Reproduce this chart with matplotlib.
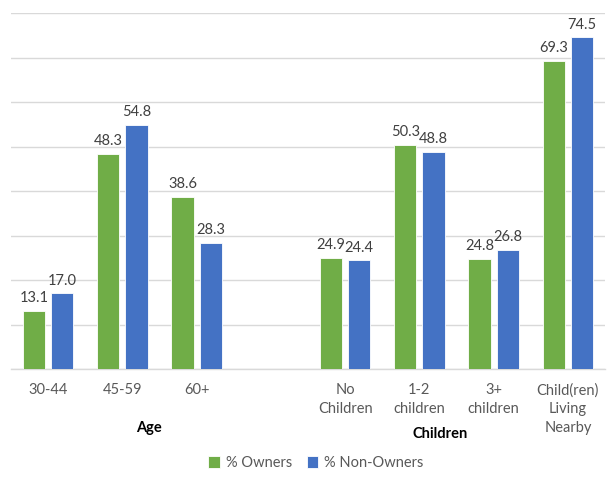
import matplotlib
matplotlib.use("Agg")
import matplotlib.pyplot as plt
import numpy as np

categories = ["30-44", "45-59", "60+", "", "No\nChildren", "1-2\nchildren", "3+\nchildren", "Child(ren)\nLiving\nNearby"]
owners = [13.1, 48.3, 38.6, np.nan, 24.9, 50.3, 24.8, 69.3]
non_owners = [17.0, 54.8, 28.3, np.nan, 24.4, 48.8, 26.8, 74.5]
series_names = ["% Owners", "% Non-Owners"]
group_labels = ["Age", "Children"]

plt.rcParams['font.family'] = ['Lato', 'DejaVu Sans']

green = "#70AD47"
blue = "#4472C4"
txt = "#404040"
tick_c = "#595959"

fig = plt.figure(figsize=(6.16, 4.83), dpi=100)
ax = fig.add_axes([11/616, 114/483, 594/616, 356/483])

x = np.arange(len(categories))
w = 0.3
off = 0.19
b1 = ax.bar(x - off, owners, w, color=green, edgecolor="white", linewidth=0.6, label=series_names[0], zorder=3)
b2 = ax.bar(x + off, non_owners, w, color=blue, edgecolor="white", linewidth=0.6, label=series_names[1], zorder=3)

for bars, vals in ((b1, owners), (b2, non_owners)):
    for rect, v in zip(bars, vals):
        if np.isnan(v):
            continue
        ax.text(rect.get_x() + rect.get_width() / 2, v + 1.3, f"{v:.1f}",
                ha="center", va="bottom", fontsize=10.5, color=txt, zorder=4)

ax.set_xlim(-0.5, len(categories) - 0.5)
ax.set_ylim(0, 80)
ax.set_yticks(np.arange(0, 81, 10))
ax.yaxis.grid(True, color="#D9D9D9", linewidth=1)
ax.set_axisbelow(True)
ax.tick_params(axis="y", left=False, labelleft=False)
ax.tick_params(axis="x", bottom=False, length=0, pad=10)
ax.set_xticks(x)
ax.set_xticklabels(categories, fontsize=10.5, color=tick_c, linespacing=1.45, va="top")
for s in ["top", "right", "left"]:
    ax.spines[s].set_visible(False)
ax.spines["bottom"].set_color("#D9D9D9")
ax.spines["bottom"].set_linewidth(1)

fig.text(149/616, 1 - 428/483, group_labels[0], ha="center", va="center", fontsize=10.5, fontweight="bold", color="black")
fig.text(440/616, 1 - 434/483, group_labels[1], ha="center", va="center", fontsize=10.5, fontweight="bold", color="black")

leg = fig.legend(handles=[b1, b2], labels=series_names, loc="center", bbox_to_anchor=(316/616, 1 - 463/483),
                 ncol=2, frameon=False, fontsize=10.5, handlelength=0.8, handleheight=0.8,
                 handletextpad=0.4, columnspacing=1.0, labelcolor=tick_c)

fig.savefig("out.png", dpi=100)
